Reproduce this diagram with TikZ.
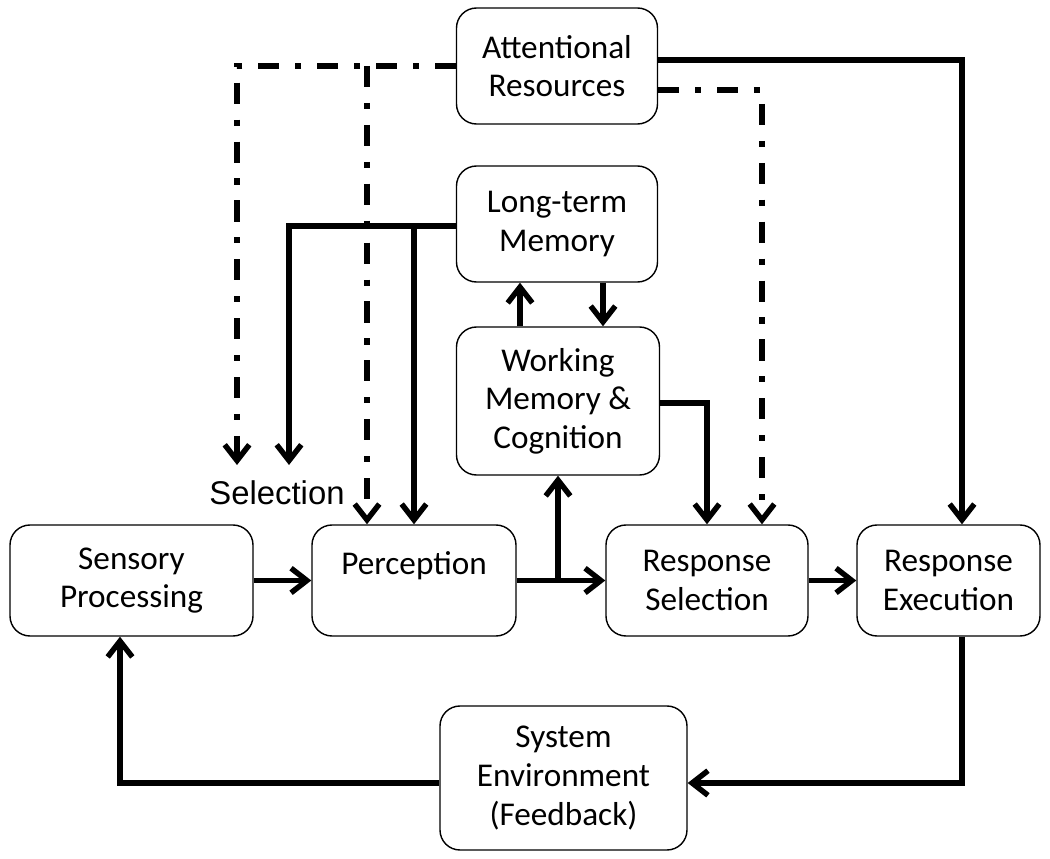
\documentclass[tikz,border=0pt]{standalone}
\usepackage{fontspec}
\setmainfont{Carlito}
\newfontfamily\labelfont{Liberation Sans}
\usetikzlibrary{arrows.meta,calc}
\tikzset{
  blok/.style={draw, line width=0.8pt, rounded corners=0.4cm, align=center, inner sep=0pt,
    font=\fontsize{18.9}{22}\selectfont},
  flow/.style={line width=3.1pt, -{Straight Barb[length=9pt,width=14pt]}},
  attn/.style={flow, dash pattern=on 12pt off 9pt on 3.5pt off 9pt},
}

\begin{document}
\begin{tikzpicture}
			%%%%% START %%%%%
			\useasboundingbox (0,0) rectangle (21,17.16);
			
			\node[blok, minimum width=4.02cm, minimum height=2.32cm] (att) at (11.14,15.84) {Attentional\\Resources};
			\node[blok, minimum width=4.02cm, minimum height=2.32cm] (ltm) at (11.14,12.68) {Long-term\\Memory};
			\node[blok, minimum width=4.06cm, minimum height=2.96cm] (wm) at (11.16,9.14) {Working\\Memory \&\\Cognition};
			
			\node[blok, minimum width=4.86cm, minimum height=2.22cm] (sens) at (2.63,5.55) {Sensory\\Processing};
			\node[blok, minimum width=4.08cm, minimum height=2.22cm] (perc) at (8.28,5.55) {Perception\\[-9pt]\strut};
			\node[blok, minimum width=4.04cm, minimum height=2.22cm] (rsel) at (14.14,5.55) {Response\\Selection};
			\node[blok, minimum width=3.66cm, minimum height=2.22cm] (rexe) at (18.97,5.55) {Response\\Execution};
			
			\node[blok, minimum width=4.94cm, minimum height=2.88cm] (env) at (11.27,1.6) {System\\Environment\\(Feedback)};
			
			\node[font=\labelfont\fontsize{18.7}{22}\selectfont] (sel) at (5.54,7.3) {Selection};
			\coordinate (selA) at (4.74,7.86);
			\coordinate (selB) at (5.78,7.86);
			
			% attention
			\draw[flow] ([yshift=0.12cm]att.east) -| ([xshift=0.27cm]rexe.north);
			\draw[attn] (att.west) -| (selA);
			\draw[attn] ([xshift=-0.94cm]perc.north |- att.west) -- ([xshift=-0.94cm]perc.north);
			\draw[attn] ([yshift=-0.48cm]att.east) -| ([xshift=1.1cm]rsel.north);
			
			% memory
			\draw[flow] ([yshift=-0.04cm]ltm.west) -| (selB);
			\draw[flow] (perc.north |- ltm.west) -- (perc.north);
			\draw[flow] ([xshift=-0.76cm]wm.north) -- ([xshift=-0.76cm]wm.north |- ltm.south);
			\draw[flow] ([xshift=0.92cm]ltm.south) -- ([xshift=0.92cm]ltm.south |- wm.north);
			\draw[flow] ([yshift=-0.04cm]wm.east) -| (rsel.north);
			
			% main row
			\draw[flow] (sens) -- (perc);
			\draw[flow] (perc) -- (rsel);
			\draw[flow] (perc.east -| wm.south) -- (wm.south);
			\draw[flow] (rsel) -- (rexe);
			
			% feedback
			\draw[flow] ([xshift=0.27cm]rexe.south) |- ([yshift=-0.1cm]env.east);
			\draw[flow] ([yshift=-0.1cm]env.west) -| ([xshift=-0.23cm]sens.south);
			
			%%%%% END %%%%%
\end{tikzpicture}
\end{document}
